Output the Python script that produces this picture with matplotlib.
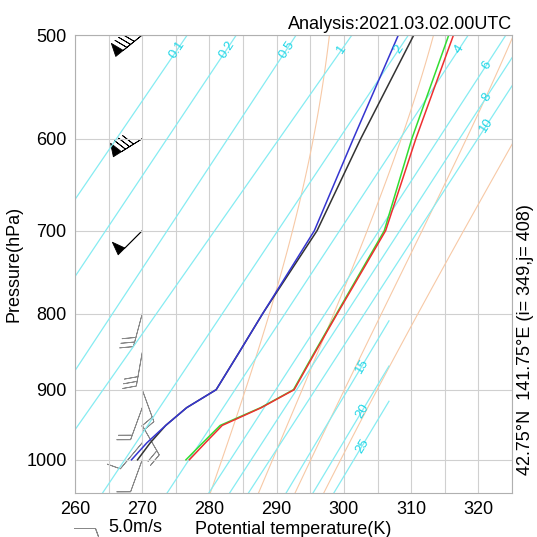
import numpy as np
import matplotlib
matplotlib.use('Agg')
import matplotlib.pyplot as plt

plt.rcParams['font.family'] = ['Liberation Sans', 'DejaVu Sans']

KAPPA = 0.286

# profiles (potential temperature, K) at pressure levels
levels = [1000, 975, 950, 925, 900, 850, 800, 700, 600, 500]
theta_black = [269.3, 271.2, 273.5, 276.6, 281.0, 284.4, 287.9, 296.0, 302.5, 310.4]
theta_blue = [268.4, 270.7, 273.5, 276.6, 281.0, 284.4, 287.9, 295.6, 301.4, 308.1]
theta_green = [276.5, 279.0, 281.6, 287.6, 292.5, 295.6, 298.9, 306.0, 310.1, 315.6]
theta_red = [277.0, 279.4, 281.9, 287.7, 292.6, 295.7, 299.0, 306.2, 310.7, 316.3]

# mixing ratio lines (g/kg): theta at 1050 hPa and theta at their upper end
mr_labels = ['0.1', '0.2', '0.5', '1', '2', '4', '6', '8', '10', '15', '20', '25']
mr_theta_low = [230.2, 238.5, 248.0, 253.4, 264.1, 273.7, 279.9, 283.0, 285.8, 291.4, 295.4, 298.5]
mr_theta_high = [276.7, 284.0, 292.9, 301.2, 309.6, 318.5, 324.1, 327.2, 329.9, 306.7, 306.7, 306.7]
mr_p_high = [500, 500, 500, 500, 500, 500, 500, 500, 500, 809, 868, 916]

# moist adiabats (equivalent potential temperature, K)
theta_e_lines = [300, 320, 340, 360]

# winds: speed (m/s) and direction (deg, from)
wind_p_upper = [500, 600, 700]
wind_spd_upper = [40, 40, 25]
wind_dir_upper = [231, 238, 225]
wind_p_lower = [800, 850, 900, 925, 950, 975, 1000]
wind_spd_lower = [15, 15, 10, 10, 10, 5, 5]
wind_dir_lower = [195, 190, 160, 200, 150, 220, 200]
barb_theta = 270


def fwd(p):
    return np.power(np.clip(p, 1e-6, None), KAPPA)


def inv(y):
    return np.power(np.clip(y, 1e-6, None), 1.0 / KAPPA)


def theta_e_curve(the, pres):
    temps = np.linspace(200, 330, 1301)
    out = []
    for p in pres:
        es = 6.112 * np.exp(17.67 * (temps - 273.15) / (temps - 29.65))
        ws = 0.622 * es / (p - es)
        th = temps * (1000.0 / p) ** KAPPA
        te = th * np.exp(2.5e6 * ws / (1004.0 * temps))
        out.append(np.interp(the, te, th))
    return np.array(out)


fig = plt.figure(figsize=(5.37, 5.37), dpi=100)
ax = fig.add_axes([75 / 537, 44 / 537, 437 / 537, 458 / 537])
ax.set_yscale('function', functions=(fwd, inv))
ax.set_xlim(260, 325)
ax.set_ylim(1050, 500)

ax.set_xticks(np.arange(260, 321, 10))
ax.set_xticks(np.arange(265, 326, 10), minor=True)
ax.set_yticks([500, 600, 700, 800, 900, 1000])
ax.grid(which='both', color='#d0d0d0', lw=0.8)
ax.tick_params(which='both', length=0, labelsize=13, pad=6)
for s in ax.spines.values():
    s.set_color('#b0b0b0')

# moist adiabats
pp = np.linspace(1050, 500, 120)
for te in theta_e_lines:
    ax.plot(theta_e_curve(te, pp), pp, color='#f7c9a6', lw=0.8)

# mixing ratio lines with labels
for lab, tlo, thi, phi in zip(mr_labels, mr_theta_low, mr_theta_high, mr_p_high):
    ax.plot([tlo, thi], [1050, phi], color='#86ecf2', lw=0.9)
    f = lambda p: tlo + (thi - tlo) * (fwd(p) - fwd(1050)) / (fwd(phi) - fwd(1050))
    if phi == 500:
        tl = min(f(513), 321.2)
    else:
        tl = thi - 4
    pl = inv(fwd(1050) + (tl - tlo) / (thi - tlo) * (fwd(phi) - fwd(1050)))
    a = ax.transData.transform([(tlo, 1050), (thi, phi)])
    ang = np.degrees(np.arctan2(a[1, 1] - a[0, 1], a[1, 0] - a[0, 0]))
    ax.text(tl, pl, lab, color='#1fd6e6', fontsize=9.5, rotation=ang,
            ha='center', va='center', rotation_mode='anchor')

ax.plot(theta_black, levels, color='#333333', lw=1.1)
ax.plot(theta_blue, levels, color='#3535d0', lw=1.1)
ax.plot(theta_green, levels, color='#33dd33', lw=1.1)
ax.plot(theta_red, levels, color='#ee3030', lw=1.1)

inc = dict(half=2.5, full=5, flag=25)
bsz = dict(spacing=0.14, height=0.38, width=0.28, emptybarb=0.1)


def uv(spd, d):
    r = np.radians(d)
    return -np.array(spd) * np.sin(r), -np.array(spd) * np.cos(r)


u, v = uv(wind_spd_upper, wind_dir_upper)
ax.barbs([barb_theta] * 3, wind_p_upper, u, v, color='k', lw=0.6,
         barb_increments=inc, sizes=bsz, length=7)
u, v = uv(wind_spd_lower, wind_dir_lower)
ax.barbs([barb_theta] * len(wind_p_lower), wind_p_lower, u, v, color='#888888',
         lw=0.6, barb_increments=inc, sizes=bsz, length=7)

# legend barb
ax.barbs([74 / 537], [1 - 528 / 537], [-5], [0], transform=fig.transFigure,
         color='#888888', lw=0.7, barb_increments=inc, sizes=bsz, length=5.5,
         clip_on=False)
fig.text(108 / 537, 1 - 527 / 537, '5.0m/s', fontsize=13, va='center', ha='left')

ax.set_title('Analysis:2021.03.02.00UTC', loc='right', fontsize=13, pad=4)
ax.set_ylabel('Pressure(hPa)', fontsize=13, labelpad=3)
ax.set_xlabel('Potential temperature(K)', fontsize=13, labelpad=2)
fig.text(526 / 537, 1 - 475 / 537, '42.75\u00b0N  141.75\u00b0E (i= 349,j= 408)',
         rotation=90, fontsize=13, ha='center', va='bottom')

fig.savefig('out.png', dpi=100)
